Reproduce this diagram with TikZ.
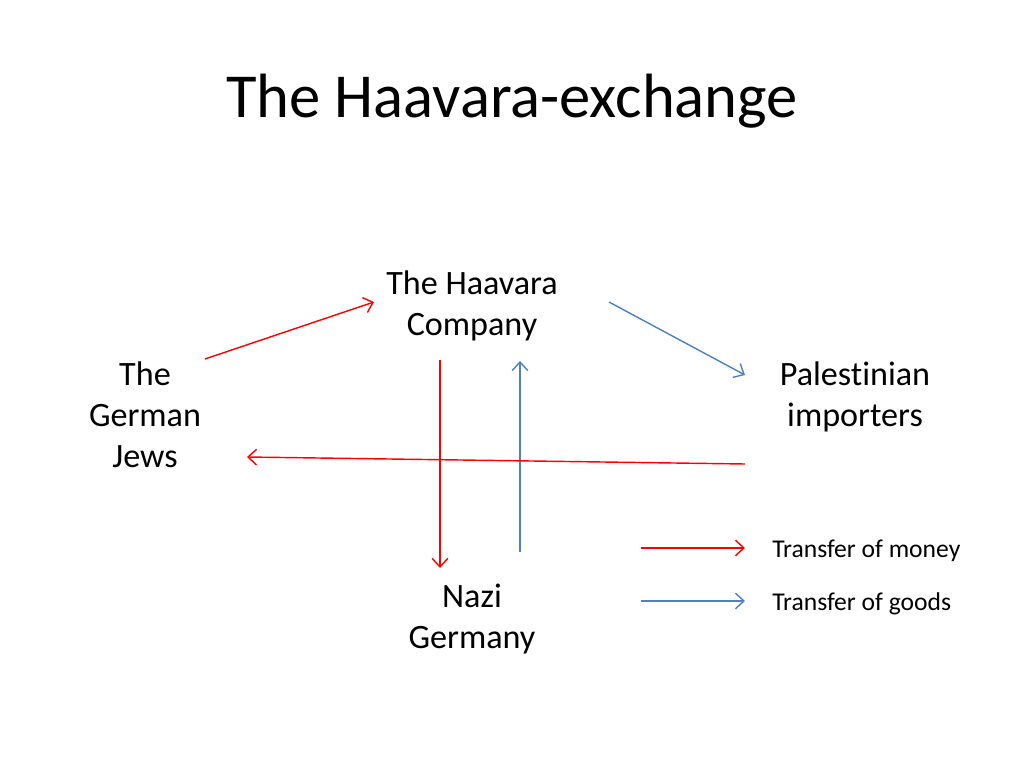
\documentclass[tikz,border=0pt]{standalone}
\usepackage{fontspec}
\setmainfont[Ligatures=NoCommon]{Carlito}
\usetikzlibrary{arrows.meta}
\definecolor{mred}{HTML}{FF0000}
\definecolor{mblue}{HTML}{4F81BD}
\tikzset{
  lbl/.style={align=center, font=\fontsize{24}{29}\selectfont, inner sep=0pt},
  leg/.style={anchor=west, font=\fontsize{18}{22}\selectfont, inner sep=0pt},
  money/.style={draw=mred, line width=1pt, -{Straight Barb[length=6pt,width=11pt]}},
  goods/.style={draw=mblue, line width=1pt, -{Straight Barb[length=6pt,width=11pt]}},
}
\begin{document}
\begin{tikzpicture}[x=0.703125pt,y=-0.703125pt]
\useasboundingbox (0,0) rectangle (1024,768);
\node[anchor=base, inner sep=0pt, font=\fontsize{44}{53}\selectfont] (title) at (512,118) {The Haavara-exchange};
\node[lbl] (hc) at (472,306) {The Haavara\\Company};
\node[lbl] (gj) at (145,415) {The\\German\\Jews};
\node[lbl] (pi) at (855,397) {Palestinian\\importers};
\node[lbl] (ng) at (472,619) {Nazi\\Germany};
\coordinate (a1s) at (205,359); \coordinate (a1e) at (374,302);
\coordinate (a2s) at (609,302); \coordinate (a2e) at (745,375);
\coordinate (a3s) at (745,464); \coordinate (a3e) at (247,457);
\coordinate (a4s) at (440,360); \coordinate (a4e) at (440,568);
\coordinate (a5s) at (520,552); \coordinate (a5e) at (520,361);
\draw[money] (a1s) -- (a1e);
\draw[goods] (a2s) -- (a2e);
\draw[goods] (a5s) -- (a5e);
\draw[money] (a4s) -- (a4e);
\draw[money] (a3s) -- (a3e);
\node[leg] (lm) at (772,551) {Transfer of money};
\node[leg] (lg) at (772,604) {Transfer of goods};
\coordinate (lms) at (641,548); \coordinate (lme) at (745,548);
\coordinate (lgs) at (641,601); \coordinate (lge) at (745,601);
\draw[money] (lms) -- (lme);
\draw[goods] (lgs) -- (lge);
\end{tikzpicture}
\end{document}
